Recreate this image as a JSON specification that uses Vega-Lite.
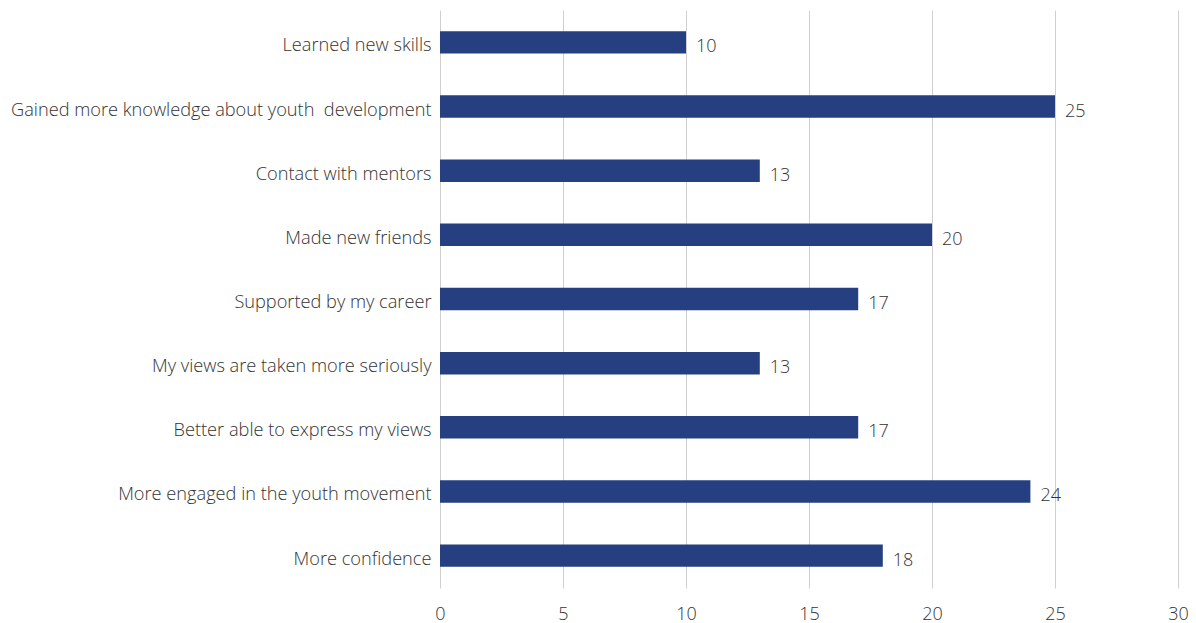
{
  "$schema": "https://vega.github.io/schema/vega-lite/v6.json",
  "width": 738,
  "height": 578,
  "autosize": {"type": "none"},
  "padding": {"left": 440, "top": 10, "right": 18, "bottom": 35},
  "background": "white",
  "config": {"view": {"stroke": null}, "font": "Open Sans"},
  "data": {"values": [
    {"item": "Learned new skills", "value": 10},
    {"item": "Gained more knowledge about youth \u00a0development", "value": 25},
    {"item": "Contact with mentors", "value": 13},
    {"item": "Made new friends", "value": 20},
    {"item": "Supported by my career", "value": 17},
    {"item": "My views are taken more seriously", "value": 13},
    {"item": "Better able to express my views", "value": 17},
    {"item": "More engaged in the youth movement", "value": 24},
    {"item": "More confidence", "value": 18}
  ]},
  "encoding": {
    "y": {"field": "item", "type": "nominal", "sort": null,
      "scale": {"paddingInner": 0.65, "paddingOuter": 0.33},
      "axis": {"title": null, "domain": false, "ticks": false, "labelPadding": 9, "labelOffset": 4, "labelFontSize": 18.2, "labelFontWeight": 300, "labelColor": "#333333", "labelLimit": 500}},
    "x": {"field": "value", "type": "quantitative",
      "scale": {"domain": [0, 30], "nice": false},
      "axis": {"title": null, "values": [0, 5, 10, 15, 20, 25, 30], "domain": false, "ticks": false, "grid": true, "gridColor": "#d0d0d0", "gridWidth": 1, "labelFlush": false, "labelPadding": 17, "labelFontSize": 18, "labelFontWeight": 300, "labelColor": "#333333"}}
  },
  "layer": [
    {"mark": {"type": "bar", "color": "#253F80"}},
    {"mark": {"type": "text", "align": "left", "baseline": "middle", "dx": 10, "dy": 5, "fontSize": 18, "fontWeight": 300, "color": "#333333"},
     "encoding": {"text": {"field": "value", "type": "quantitative"}}}
  ]
}
